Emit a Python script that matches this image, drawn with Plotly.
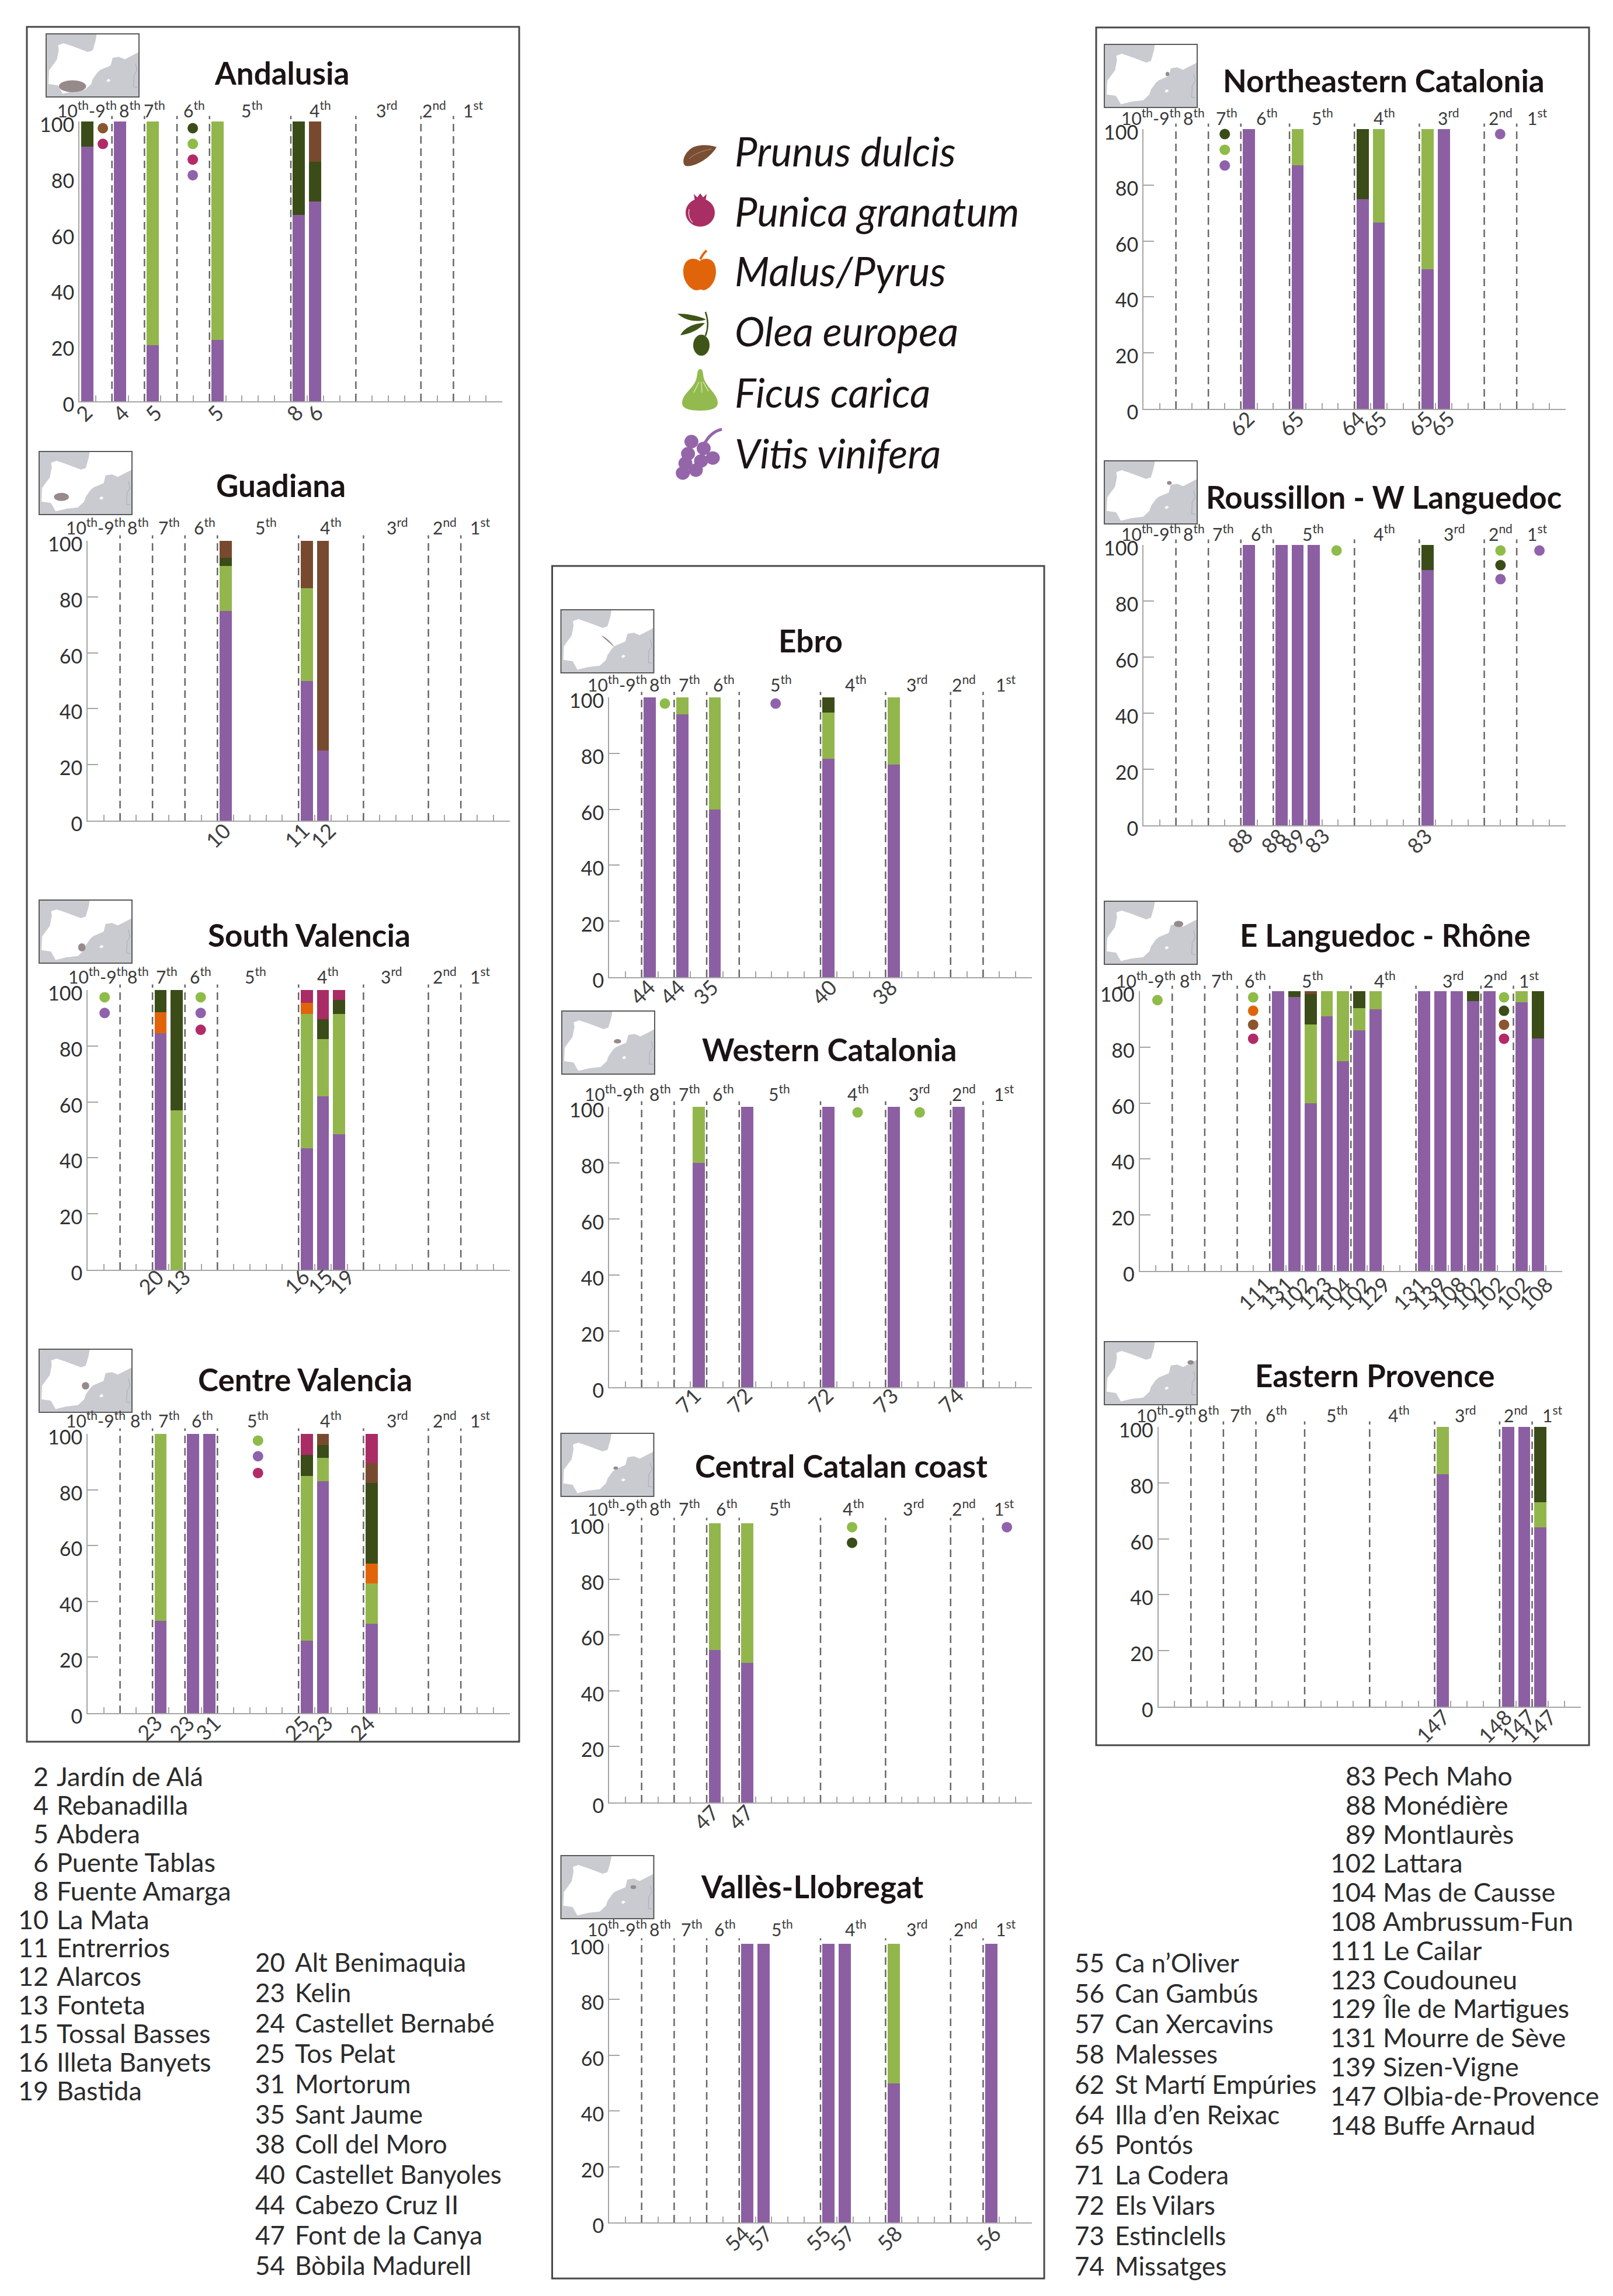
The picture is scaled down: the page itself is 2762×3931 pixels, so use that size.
import re
import plotly.graph_objects as go

W, H = 2762, 3931

# ---------- DATA ----------
PERIODS = ["10<sup>th</sup>-9<sup>th</sup>", "8<sup>th</sup>", "7<sup>th</sup>", "6<sup>th</sup>", "5<sup>th</sup>",
           "4<sup>th</sup>", "3<sup>rd</sup>", "2<sup>nd</sup>", "1<sup>st</sup>"]
CROP_ORDER = ["vitis", "ficus", "malus", "olea", "prunus", "punica"]

andalusia_sites = ["2", "4", "5", "5", "8", "6"]
andalusia_slots = [0, 2, 4, 8, 13, 14]
andalusia_vitis = [91, 100, 20, 22, 66.5, 71.5]
andalusia_ficus = [0, 0, 80, 78, 0, 0]
andalusia_olea = [9, 0, 0, 0, 33.5, 14]
andalusia_prunus = [0, 0, 0, 0, 0, 14.5]
andalusia_dots = [(1.44, 97.6, "prunus"), (1.44, 92, "punica"), (6.97, 97.6, "olea"), (6.97, 92, "ficus"),
                  (6.97, 86.4, "punica"), (6.97, 80.8, "vitis")]

guadiana_sites = ["10", "11", "12"]
guadiana_slots = [8, 13, 14]
guadiana_vitis = [75, 50, 25]
guadiana_ficus = [16, 33, 0]
guadiana_olea = [3, 0, 0]
guadiana_prunus = [6, 17, 75]

south_val_sites = ["20", "13", "16", "15", "19"]
south_val_slots = [4, 5, 13, 14, 15]
south_val_vitis = [84.5, 0, 43.5, 62, 48.5]
south_val_ficus = [0, 57, 48, 20.5, 43]
south_val_malus = [7.5, 0, 4, 0, 0]
south_val_olea = [8, 43, 0, 7, 5]
south_val_punica = [0, 0, 4.5, 10.5, 3.5]
south_val_dots = [(1.05, 97.4, "ficus"), (1.05, 91.8, "vitis"), (6.97, 97.4, "ficus"), (6.97, 91.8, "vitis"),
                  (6.97, 85.8, "punica")]

centre_val_sites = ["23", "23", "31", "25", "23", "24"]
centre_val_slots = [4, 6, 7, 13, 14, 17]
centre_val_vitis = [33, 100, 100, 26, 83, 32]
centre_val_ficus = [67, 0, 0, 59, 8.5, 14.5]
centre_val_malus = [0, 0, 0, 0, 0, 7]
centre_val_olea = [0, 0, 0, 7.5, 4.5, 29]
centre_val_prunus = [0, 0, 0, 0, 4, 7]
centre_val_punica = [0, 0, 0, 7.5, 0, 10.5]
centre_val_dots = [(10.5, 97.6, "ficus"), (10.5, 92, "vitis"), (10.5, 86, "punica")]

ebro_sites = ["44", "44", "35", "40", "38"]
ebro_slots = [2, 4, 6, 13, 17]
ebro_vitis = [100, 94, 60, 78, 76]
ebro_ficus = [0, 6, 40, 16.5, 24]
ebro_olea = [0, 0, 0, 5.5, 0]
ebro_dots = [(3.43, 97.8, "ficus"), (10.24, 97.8, "vitis")]

w_cat_sites = ["71", "72", "72", "73", "74"]
w_cat_slots = [5, 8, 13, 17, 21]
w_cat_vitis = [80, 100, 100, 100, 100]
w_cat_ficus = [20, 0, 0, 0, 0]
w_cat_dots = [(15.28, 98, "ficus"), (19.1, 98, "ficus")]

central_cat_sites = ["47", "47"]
central_cat_slots = [6, 8]
central_cat_vitis = [54.5, 50]
central_cat_ficus = [45.5, 50]
central_cat_dots = [(14.94, 98.6, "ficus"), (14.94, 93, "olea"), (24.46, 98.6, "vitis")]

valles_sites = ["54", "57", "55", "57", "58", "56"]
valles_slots = [8, 9, 13, 14, 17, 23]
valles_vitis = [100, 100, 100, 100, 50, 100]
valles_ficus = [0, 0, 0, 0, 50, 0]

ne_cat_sites = ["62", "65", "64", "65", "65", "65"]
ne_cat_slots = [6, 9, 13, 14, 17, 18]
ne_cat_vitis = [100, 87, 75, 66.5, 50, 100]
ne_cat_ficus = [0, 13, 0, 33.5, 50, 0]
ne_cat_olea = [0, 0, 25, 0, 0, 0]
ne_cat_dots = [(5.01, 98.2, "olea"), (5.01, 92.6, "ficus"), (5.01, 87, "vitis"), (21.98, 98.2, "vitis")]

rouss_sites = ["88", "88", "89", "83", "83"]
rouss_slots = [6, 8, 9, 10, 17]
rouss_vitis = [100, 100, 100, 100, 91]
rouss_olea = [0, 0, 0, 0, 9]
rouss_dots = [(11.9, 98, "ficus"), (22, 98, "ficus"), (22, 92.8, "olea"), (22, 87.8, "vitis"), (24.4, 98, "vitis")]

e_lang_sites = ["111", "131", "102", "123", "104", "102", "129", "131", "139", "108", "102", "102", "102", "108"]
e_lang_slots = [8, 9, 10, 11, 12, 13, 14, 17, 18, 19, 20, 21, 23, 24]
e_lang_vitis = [100, 98, 60, 91, 75, 86, 93.5, 100, 100, 100, 96.5, 100, 96, 83]
e_lang_ficus = [0, 0, 28, 9, 25, 8, 6.5, 0, 0, 0, 0, 0, 4, 0]
e_lang_olea = [0, 2, 11, 0, 0, 6, 0, 0, 0, 0, 3.5, 0, 0, 17]
e_lang_prunus = [0, 0, 1, 0, 0, 0, 0, 0, 0, 0, 0, 0, 0, 0]
e_lang_dots = [(1.09, 96.8, "ficus"), (6.98, 97.8, "ficus"), (6.98, 93, "malus"), (6.98, 88, "prunus"),
               (6.98, 83, "punica"), (9.64, 102.4, "punica"), (11.67, 102.4, "malus"), (22.42, 97.8, "ficus"),
               (22.42, 93, "olea"), (22.42, 88, "prunus"), (22.42, 83, "punica")]

e_prov_sites = ["147", "148", "147", "147"]
e_prov_slots = [17, 21, 22, 23]
e_prov_vitis = [83, 100, 100, 64]
e_prov_ficus = [17, 0, 0, 9]
e_prov_olea = [0, 0, 0, 27]

legend_names = ["Prunus dulcis", "Punica granatum", "Malus/Pyrus", "Olea europea", "Ficus carica", "Vitis vinifera"]

col1_nums = ["2", "4", "5", "6", "8", "10", "11", "12", "13", "15", "16", "19"]
col1_names = ["Jardín de Alá", "Rebanadilla", "Abdera", "Puente Tablas", "Fuente Amarga", "La Mata", "Entrerrios",
              "Alarcos", "Fonteta", "Tossal Basses", "Illeta Banyets", "Bastida"]
col2_nums = ["20", "23", "24", "25", "31", "35", "38", "40", "44", "47", "54"]
col2_names = ["Alt Benimaquia", "Kelin", "Castellet Bernabé", "Tos Pelat", "Mortorum", "Sant Jaume", "Coll del Moro",
              "Castellet Banyoles", "Cabezo Cruz II", "Font de la Canya", "Bòbila Madurell"]
col3_nums = ["55", "56", "57", "58", "62", "64", "65", "71", "72", "73", "74"]
col3_names = ["Ca n’Oliver", "Can Gambús", "Can Xercavins", "Malesses", "St Martí Empúries", "Illa d’en Reixac",
              "Pontós", "La Codera", "Els Vilars", "Estinclells", "Missatges"]
col4_nums = ["83", "88", "89", "102", "104", "108", "111", "123", "129", "131", "139", "147", "148"]
col4_names = ["Pech Maho", "Monédière", "Montlaurès", "Lattara", "Mas de Causse", "Ambrussum-Fun", "Le Cailar",
              "Coudouneu", "Île de Martigues", "Mourre de Sève", "Sizen-Vigne", "Olbia-de-Provence", "Buffe Arnaud"]

# ---------- STYLE ----------
FONT = "Lato"
BAR_COL = dict(vitis="#8c5fa2", ficus="#92b64c", malus="#e1640b", olea="#3b4c18", prunus="#774a30", punica="#a92c64")
DOT_COL = dict(vitis="#9062ab", ficus="#8fbb49", malus="#e1640b", olea="#3b4c18", prunus="#8a5630", punica="#b22b66")
TXT = "#2b2b2b"

BND_A = [2, 4, 6, 8, 13, 17, 21, 23]
BND_B = [2, 4, 6, 9, 13, 17, 21, 23]


def crops(prefix):
    g = globals()
    return {c: g[f"{prefix}_{c}"] for c in CROP_ORDER if f"{prefix}_{c}" in g}


# left, right, y100, y0, title centre, map box, region, boundaries, period label centres and offset,
# y ticks drawn, site label centres (sl) and their drop below the axis (dy)
PANELS = [
    dict(p="andalusia", title="Andalusia", l=136, r=860, top=208, bot=687, tx=482, ty=124, mx=79, my=58, b=BND_A,
         lab=[.47, 3.11, 4.62, 7.07, 10.62, 14.8, 18.9, 21.8, 24.2], off=21, yt=False, reg=(.284, .83, .294, .186),
         sl=[.27, 2.54, 4.54, 8.35, 13.22, 14.45], dy=20),
    dict(p="guadiana", title="Guadiana", l=150, r=872.5, top=926, bot=1405, tx=481, ty=831, mx=67, my=773, b=BND_A,
         lab=[.49, 3.11, 5.03, 7.2, 11, 15, 19.07, 22, 24.2], off=25, yt=True, reg=(.24, .72, .16, .13),
         sl=[8.02, 12.87, 14.5], dy=25),
    dict(p="south_val", title="South Valencia", l=150, r=872.5, top=1695, bot=2174, tx=529, ty=1600, mx=67, my=1541, b=BND_A,
         lab=[.66, 3.11, 4.89, 6.95, 10.33, 14.8, 18.7, 22, 24.2], off=25, yt=True, reg=(.46, .75, .08, .13),
         sl=[3.9, 5.55, 12.87, 14.31, 15.66], dy=20),
    dict(p="centre_val", title="Centre Valencia", l=150, r=872.5, top=2455, bot=2933, tx=522, ty=2361, mx=67, my=2310, b=BND_A,
         lab=[.49, 3.28, 5.03, 7.07, 10.5, 15, 19.07, 22, 24.2], off=25, yt=True, reg=(.5, .58, .08, .12),
         sl=[3.8, 5.8, 7.4, 12.9, 14.31, 16.9], dy=25),
    dict(p="ebro", title="Ebro", l=1043, r=1767, top=1194, bot=1673, tx=1388, ty=1096, mx=960.5, my=1044, b=BND_A,
         lab=[.5, 3.13, 4.92, 7.07, 10.56, 15.18, 18.92, 21.8, 24.38], off=24, yt=True, reg="ebro",
         sl=[2.03, 3.87, 5.92, 13.21, 16.93], dy=25),
    dict(p="w_cat", title="Western Catalonia", l=1043, r=1767, top=1895, bot=2375, tx=1420, ty=1797, mx=962, my=1731, b=BND_A,
         lab=[.34, 3.13, 4.92, 7.03, 10.46, 15.3, 19.06, 21.8, 24.28], off=24, yt=True, reg=(.6, .48, .08, .07),
         sl=[4.86, 8, 13, 17, 21], dy=22),
    dict(p="central_cat", title="Central Catalan coast", l=1043, r=1767, top=2608, bot=3086, tx=1440.5, ty=2509, mx=960.5, my=2454, b=BND_A,
         lab=[.5, 3.13, 4.92, 7.25, 10.5, 15.02, 18.7, 21.8, 24.28], off=27, yt=True, reg=(.59, .55, .05, .05),
         sl=[5.96, 8.07], dy=25),
    dict(p="valles", title="Vallès-Llobregat", l=1043, r=1767, top=3328, bot=3805, tx=1391, ty=3229, mx=960.5, my=3177, b=BND_A,
         lab=[.5, 3.13, 5.08, 7.13, 10.64, 15.18, 18.92, 21.93, 24.38], off=27, yt=True, reg=(.78, .5, .06, .06),
         sl=[7.87, 9.26, 12.85, 14.32, 17.23, 23.3], dy=27),
    dict(p="ne_cat", title="Northeastern Catalonia", l=1958, r=2680.5, top=221, bot=700, tx=2369, ty=137, mx=1891, my=76, b=BND_B,
         lab=[.46, 3.13, 5.11, 7.62, 11.03, 14.85, 18.77, 22.02, 24.24], off=21, yt=True, reg=(.68, .47, .04, .07),
         sl=[6.04, 9.09, 12.83, 14.22, 17.05, 18.38], dy=25),
    dict(p="rouss", title="Roussillon - W Languedoc", l=1958, r=2680.5, top=933, bot=1413, tx=2369, ty=851, mx=1891, my=789, b=BND_A,
         lab=[.46, 3.13, 4.91, 7.27, 10.44, 14.85, 19.13, 22.02, 24.24], off=21, yt=True, reg=(.7, .35, .05, .06),
         sl=[5.94, 8, 9.23, 10.68, 17], dy=26),
    dict(p="e_lang", title="E Languedoc - Rhône", l=1951.6, r=2675, top=1697, bot=2176, tx=2372, ty=1600, mx=1891, my=1543, b=BND_A,
         lab=[.38, 3.13, 5.08, 7.1, 10.63, 15.1, 19.27, 21.9, 23.95], off=20, yt=True, reg=(.8, .36, .1, .1),
         sl=[7.08, 8.39, 9.56, 10.77, 11.98, 13.19, 14.39, 16.61, 17.82, 19.03, 20.24, 21.45, 22.97, 24.38], dy=38),
    dict(p="e_prov", title="Eastern Provence", l=1983.6, r=2707, top=2443, bot=2922, tx=2354, ty=2354, mx=1891, my=2297, b=BND_B,
         lab=[.48, 3.1, 5.08, 7.26, 11, 14.82, 18.9, 21.98, 24.23], off=22, yt=True, reg=(.93, .33, .07, .07),
         sl=[16.88, 20.7, 22.12, 23.43], dy=33),
]


def px(x):
    return x / W


def py(y):
    return 1 - y / H


def pathify(d):
    """Convert a path written in page pixels to paper coordinates."""
    out, is_x = [], True
    for tok in re.findall(r"[A-Za-z]|-?\d+\.?\d*", d):
        if tok.isalpha():
            out.append(tok)
            is_x = True
        else:
            v = float(tok)
            out.append(f"{px(v):.6f}" if is_x else f"{py(v):.6f}")
            is_x = not is_x
    return " ".join(out)


shapes, annos = [], []
fig = go.Figure()


def add_path(d, fill=None, line=None, lw=0):
    shapes.append(dict(type="path", path=pathify(d), xref="paper", yref="paper", fillcolor=fill or "rgba(0,0,0,0)",
                       line=dict(color=line or "rgba(0,0,0,0)", width=lw)))


def add_oval(cx, cy, rx, ry, fill):
    shapes.append(dict(type="circle", xref="paper", yref="paper", x0=px(cx - rx), x1=px(cx + rx), y0=py(cy + ry),
                       y1=py(cy - ry), fillcolor=fill, line=dict(width=0)))


def add_text(x, y, text, size, anchor="center", **kw):
    annos.append(dict(x=px(x), y=py(y), xref="paper", yref="paper", text=text, showarrow=False, xanchor=anchor,
                      yanchor="middle", font=dict(family=FONT, size=size, color=kw.pop("color", TXT)), **kw))


# ---------- FRAMES ----------
for x0, y0, x1, y1 in [(46, 46, 889, 2982), (945.5, 969, 1788, 3901), (1877, 47, 2721, 2988)]:
    shapes.append(dict(type="rect", xref="paper", yref="paper", x0=px(x0), x1=px(x1), y0=py(y1), y1=py(y0),
                       line=dict(color="#484848", width=3), fillcolor="rgba(0,0,0,0)"))

# ---------- MAP INSETS ----------
MAP_W, MAP_H = 159, 108
LAND = [(92, 85), (120, 75), (165, 90), (245, 120), (270, 112), (285, 60), (290, 30), (505, 30), (505, 122), (470, 140),
        (435, 158), (405, 145), (372, 150), (362, 190), (310, 212), (295, 225), (270, 260), (262, 285), (230, 315),
        (170, 322), (115, 335), (90, 292), (42, 285), (45, 215), (85, 160), (95, 110)]
ISLE = [(340, 268), (352, 258), (362, 266), (350, 276)]


def add_map(mx, my, reg):
    shapes.append(dict(type="rect", xref="paper", yref="paper", x0=px(mx), x1=px(mx + MAP_W), y0=py(my + MAP_H),
                       y1=py(my), fillcolor="#c9cbd0", line=dict(width=0)))

    def tr(pts):
        return [(mx + (a - 30) / 478 * MAP_W, my + (b - 27) / 325 * MAP_H) for a, b in pts]

    for poly in (LAND, ISLE):
        q = tr(poly)
        add_path("M " + " L ".join(f"{a:.1f} {b:.1f}" for a, b in q) + " Z", fill="#ffffff")
    q = tr([(490, 180), (498, 215), (482, 240), (480, 300), (500, 302)])
    add_path("M " + " L ".join(f"{a:.1f} {b:.1f}" for a, b in q), line="#a9abb0", lw=1)
    if reg == "ebro":
        q = tr([(237, 160), (255, 160), (300, 205), (305, 220), (290, 220), (240, 180), (237, 160)])
        add_path(f"M {q[0][0]:.1f} {q[0][1]:.1f} C " + " ".join(f"{a:.1f} {b:.1f}" for a, b in q[1:]) + " Z",
                 fill="#978a8a")
    else:
        u, v, w_, h_ = reg
        add_oval(mx + u * MAP_W, my + v * MAP_H, w_ * MAP_W / 2, h_ * MAP_H / 2, "#978a8a")
    shapes.append(dict(type="rect", xref="paper", yref="paper", x0=px(mx), x1=px(mx + MAP_W), y0=py(my + MAP_H),
                       y1=py(my), fillcolor="rgba(0,0,0,0)", line=dict(color="#5a5a5a", width=2)))


# ---------- PANELS ----------
layout_axes = {}
for i, P in enumerate(PANELS, start=1):
    sfx = "" if i == 1 else str(i)
    xa, ya = f"x{sfx}", f"y{sfx}"
    prefix = P["p"]
    sites = globals()[f"{prefix}_sites"]
    slots = globals()[f"{prefix}_slots"]
    centres = [s + 0.5 for s in slots]
    for crop, vals in crops(prefix).items():
        fig.add_trace(go.Bar(x=centres, y=vals, width=0.75, marker=dict(color=BAR_COL[crop], line=dict(width=0)),
                             name=crop, xaxis=xa, yaxis=ya, showlegend=False, hoverinfo="skip"))
    dots = globals().get(f"{prefix}_dots", [])
    if dots:
        fig.add_trace(go.Scatter(x=[d[0] for d in dots], y=[d[1] for d in dots], mode="markers", xaxis=xa, yaxis=ya,
                                 marker=dict(size=18, color=[DOT_COL[d[2]] for d in dots], line=dict(width=0)),
                                 cliponaxis=False, showlegend=False, hoverinfo="skip"))
    layout_axes[f"xaxis{sfx}"] = dict(
        domain=[px(P["l"]), px(P["r"])], range=[0, 26], anchor=ya, showgrid=False, zeroline=False, showline=True,
        automargin=False, linecolor="#a5a5a5", linewidth=2, tickmode="array", tickvals=list(range(27)), showticklabels=False,
        ticks="inside", ticklen=10, tickcolor="#a5a5a5", tickwidth=2,
    )
    layout_axes[f"yaxis{sfx}"] = dict(
        domain=[py(P["bot"]), py(P["top"])], range=[0, 100], anchor=xa, showgrid=False, zeroline=False, showline=True,
        automargin=False, linecolor="#a5a5a5", linewidth=2, tickmode="array", tickvals=[0, 20, 40, 60, 80, 100],
        ticks="inside" if P["yt"] else "", ticklen=18, tickcolor="#a5a5a5", tickwidth=2,
        tickfont=dict(family=FONT, size=34, color="#303030"), ticklabelstandoff=0, ticklabelshift=6,
    )
    for site, cx in zip(sites, P["sl"]):
        annos.append(dict(x=cx, xref=xa, y=py(P["bot"] + P["dy"]), yref="paper", text=site, showarrow=False,
                          textangle=-45, xanchor="center", yanchor="middle",
                          font=dict(family=FONT, size=36, color="#404040")))
    for b in P["b"]:
        shapes.append(dict(type="line", xref=xa, yref=f"{ya} domain", x0=b, x1=b, y0=0, y1=1.02,
                           line=dict(color="#666666", width=2.5, dash="13px,8px"), layer="above"))
    for lab, cx in zip(PERIODS, P["lab"]):
        annos.append(dict(x=cx, xref=xa, y=py(P["top"] - P["off"]), yref="paper", text=lab, showarrow=False,
                          xanchor="center", yanchor="middle", font=dict(family=FONT, size=30, color="#3a3a3a")))
    add_text(P["tx"], P["ty"], f"<b>{P['title']}</b>", 53, color="#1c1414")
    add_map(P["mx"], P["my"], P["reg"])

# ---------- LEGEND ----------
for name, y in zip(legend_names, [258, 361, 464, 567, 671, 775]):
    add_text(1256, y, f"<i>{name}</i>", 69, anchor="left", color="#1c1414")

# almond
add_path("M 1227 252 C 1215 247 1190 246 1180 257 C 1170 266 1167 280 1174 284 C 1188 287 1215 272 1227 252 Z", fill="#7a4e33")
add_path("M 1180 272 C 1190 262 1205 258 1218 255", line="#b39a85", lw=1)
# pomegranate
add_oval(1199, 364, 25, 24, "#a82e63")
add_path("M 1190 345 L 1188 332 L 1194 338 L 1199 331 L 1204 338 L 1210 332 L 1208 345 Z", fill="#a82e63")
add_path("M 1180 358 C 1178 368 1181 376 1186 381", line="#e8c9d8", lw=1.5)
# apple
add_path("M 1198 447 C 1190 440 1170 440 1170 465 C 1170 485 1185 497 1192 497 C 1196 497 1200 494 1204 497 "
         "C 1212 497 1226 485 1226 465 C 1226 440 1206 440 1198 447 Z", fill="#e0650a")
add_path("M 1199 444 C 1202 438 1205 433 1210 429", line="#e0650a", lw=4)
# olive
add_path("M 1160 537 C 1175 537 1195 540 1209 547 C 1192 553 1172 548 1160 537 Z", fill="#3f5518")
add_path("M 1165 574 C 1172 560 1190 553 1207 553 C 1197 565 1180 572 1165 574 Z", fill="#3f5518")
add_path("M 1208 534 C 1213 548 1213 562 1208 575", line="#3f5518", lw=2.5)
add_oval(1201, 591, 14, 18, "#3f5518")
# fig
add_path("M 1199 632 C 1205 632 1203 642 1206 650 C 1212 665 1229 675 1229 690 C 1229 700 1215 703 1199 703 "
         "C 1182 703 1168 700 1168 690 C 1168 675 1187 665 1192 650 C 1195 642 1193 632 1199 632 Z", fill="#93ba4e")
add_path("M 1197 654 L 1188 672 M 1201 654 L 1202 672 M 1204 654 L 1213 670", line="#dfeac8", lw=1.2)
# grapes
for zx, zy in [(188, 1340), (235, 1368), (270, 1408), (175, 1390), (225, 1420), (165, 1430), (205, 1458), (155, 1470)]:
    add_oval(1100 + zx / 2.24, 200 + zy / 2.41, 12, 11.5, "#9565a9")
add_path("M 1205 762 C 1212 748 1222 738 1236 735", line="#9565a9", lw=5)

# ---------- SITE LISTS ----------
for nums, names, num_x, name_x, y0, step, size in [
    (col1_nums, col1_names, 85, 95, 3041, 48.9, 45),
    (col2_nums, col2_names, 490, 503, 3359, 51.9, 44),
    (col3_nums, col3_names, 1893, 1907, 3360, 51.9, 44),
    (col4_nums, col4_names, 2358, 2366, 3040, 49.8, 45),
]:
    for k, (n, s) in enumerate(zip(nums, names)):
        add_text(num_x, y0 + k * step, n, size, anchor="right")
        add_text(name_x, y0 + k * step, s, size, anchor="left")

fig.update_layout(width=W, height=H, margin=dict(l=0, r=0, t=0, b=0, pad=0), barmode="stack", bargap=0,
                  paper_bgcolor="white", plot_bgcolor="rgba(0,0,0,0)", showlegend=False, shapes=shapes, annotations=annos,
                  font=dict(family=FONT), **layout_axes)
fig.write_html("out.html", post_script="document.body.style.margin='0';", config={"displayModeBar": False})
